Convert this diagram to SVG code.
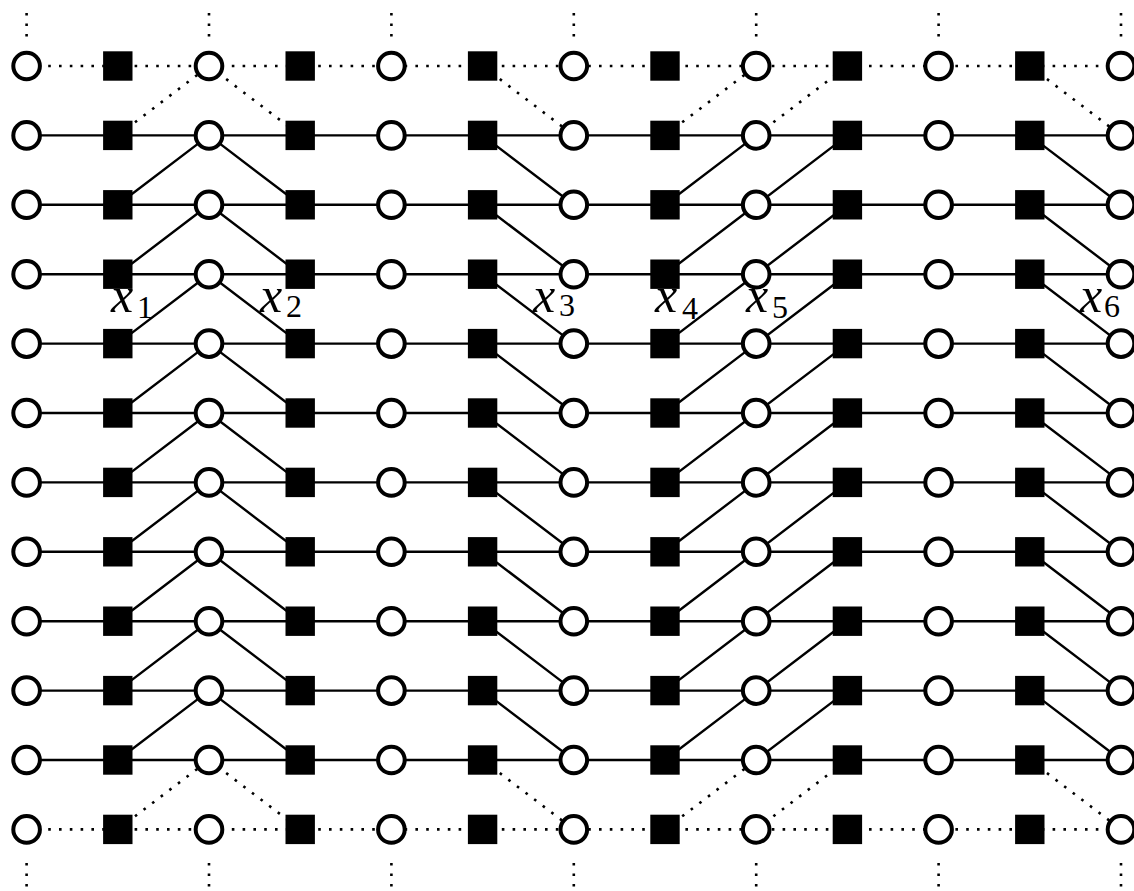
<svg xmlns="http://www.w3.org/2000/svg" xmlns:xlink="http://www.w3.org/1999/xlink" width="1134" height="891" viewBox="0 0 1134 891">
<style>
.solid{fill:none;stroke:#000;stroke-width:2.4}
.dot{fill:none;stroke:#000;stroke-width:2.6;stroke-dasharray:2.6 8.2}
.vdot{fill:none;stroke:#000;stroke-width:2.6;stroke-dasharray:2.6 7.9}
.circ{fill:#fff;stroke:#000;stroke-width:4}
.sq{fill:#000}
.lbl{font-family:"Liberation Serif","Times New Roman",serif;font-style:italic;font-size:50px;fill:#000}
.sub{font-family:"Liberation Serif","Times New Roman",serif;font-style:normal;font-size:32px;fill:#000}
</style>
<defs>
<circle id="C" cx="0" cy="0" r="13.3" class="circ"/>
<rect id="S" x="-14.7" y="-14.7" width="29.4" height="29.4" class="sq"/>
</defs>
<rect width="1134" height="891" fill="#fff"/>
<g id="connectors">
<path class="dot" d="M26.6 66H1121M26.6 829.4H1121"/>
<path class="solid" d="M26.6 135.4H1121M26.6 204.8H1121M26.6 274.2H1121M26.6 343.6H1121M26.6 413H1121M26.6 482.4H1121M26.6 551.8H1121M26.6 621.2H1121M26.6 690.6H1121M26.6 760H1121"/>
<path class="vdot" d="M26.6 13V37M209 13V37M391.4 13V37M573.8 13V37M756.2 13V37M938.6 13V37M1121 13V37"/>
<path class="vdot" d="M26.6 863V887M209 863V887M391.4 863V887M573.8 863V887M756.2 863V887M938.6 863V887M1121 863V887"/>
<path class="dot" d="M117.8 135.4L209 66M117.8 829.4L209 760M209 66L300.2 135.4M209 760L300.2 829.4M482.6 66L573.8 135.4M482.6 760L573.8 829.4M665 135.4L756.2 66M665 829.4L756.2 760M756.2 135.4L847.4 66M756.2 829.4L847.4 760M1029.8 66L1121 135.4M1029.8 760L1121 829.4"/>
<path class="solid" d="M117.8 204.8l91.2 -69.4M117.8 274.2l91.2 -69.4M117.8 343.6l91.2 -69.4M117.8 413l91.2 -69.4M117.8 482.4l91.2 -69.4M117.8 551.8l91.2 -69.4M117.8 621.2l91.2 -69.4M117.8 690.6l91.2 -69.4M117.8 760l91.2 -69.4"/>
<path class="solid" d="M209 135.4l91.2 69.4M209 204.8l91.2 69.4M209 274.2l91.2 69.4M209 343.6l91.2 69.4M209 413l91.2 69.4M209 482.4l91.2 69.4M209 551.8l91.2 69.4M209 621.2l91.2 69.4M209 690.6l91.2 69.4"/>
<path class="solid" d="M482.6 135.4l91.2 69.4M482.6 204.8l91.2 69.4M482.6 274.2l91.2 69.4M482.6 343.6l91.2 69.4M482.6 413l91.2 69.4M482.6 482.4l91.2 69.4M482.6 551.8l91.2 69.4M482.6 621.2l91.2 69.4M482.6 690.6l91.2 69.4"/>
<path class="solid" d="M665 204.8l91.2 -69.4M665 274.2l91.2 -69.4M665 343.6l91.2 -69.4M665 413l91.2 -69.4M665 482.4l91.2 -69.4M665 551.8l91.2 -69.4M665 621.2l91.2 -69.4M665 690.6l91.2 -69.4M665 760l91.2 -69.4"/>
<path class="solid" d="M756.2 204.8l91.2 -69.4M756.2 274.2l91.2 -69.4M756.2 343.6l91.2 -69.4M756.2 413l91.2 -69.4M756.2 482.4l91.2 -69.4M756.2 551.8l91.2 -69.4M756.2 621.2l91.2 -69.4M756.2 690.6l91.2 -69.4M756.2 760l91.2 -69.4"/>
<path class="solid" d="M1029.8 135.4l91.2 69.4M1029.8 204.8l91.2 69.4M1029.8 274.2l91.2 69.4M1029.8 343.6l91.2 69.4M1029.8 413l91.2 69.4M1029.8 482.4l91.2 69.4M1029.8 551.8l91.2 69.4M1029.8 621.2l91.2 69.4M1029.8 690.6l91.2 69.4"/>
</g>
<g id="nodes">
<g id="n0_0"><use href="#C" x="26.6" y="66"/></g><g id="n0_1"><use href="#S" x="117.8" y="66"/></g><g id="n0_2"><use href="#C" x="209" y="66"/></g><g id="n0_3"><use href="#S" x="300.2" y="66"/></g><g id="n0_4"><use href="#C" x="391.4" y="66"/></g><g id="n0_5"><use href="#S" x="482.6" y="66"/></g><g id="n0_6"><use href="#C" x="573.8" y="66"/></g><g id="n0_7"><use href="#S" x="665" y="66"/></g><g id="n0_8"><use href="#C" x="756.2" y="66"/></g><g id="n0_9"><use href="#S" x="847.4" y="66"/></g><g id="n0_10"><use href="#C" x="938.6" y="66"/></g><g id="n0_11"><use href="#S" x="1029.8" y="66"/></g><g id="n0_12"><use href="#C" x="1121" y="66"/></g>
<g id="n1_0"><use href="#C" x="26.6" y="135.4"/></g><g id="n1_1"><use href="#S" x="117.8" y="135.4"/></g><g id="n1_2"><use href="#C" x="209" y="135.4"/></g><g id="n1_3"><use href="#S" x="300.2" y="135.4"/></g><g id="n1_4"><use href="#C" x="391.4" y="135.4"/></g><g id="n1_5"><use href="#S" x="482.6" y="135.4"/></g><g id="n1_6"><use href="#C" x="573.8" y="135.4"/></g><g id="n1_7"><use href="#S" x="665" y="135.4"/></g><g id="n1_8"><use href="#C" x="756.2" y="135.4"/></g><g id="n1_9"><use href="#S" x="847.4" y="135.4"/></g><g id="n1_10"><use href="#C" x="938.6" y="135.4"/></g><g id="n1_11"><use href="#S" x="1029.8" y="135.4"/></g><g id="n1_12"><use href="#C" x="1121" y="135.4"/></g>
<g id="n2_0"><use href="#C" x="26.6" y="204.8"/></g><g id="n2_1"><use href="#S" x="117.8" y="204.8"/></g><g id="n2_2"><use href="#C" x="209" y="204.8"/></g><g id="n2_3"><use href="#S" x="300.2" y="204.8"/></g><g id="n2_4"><use href="#C" x="391.4" y="204.8"/></g><g id="n2_5"><use href="#S" x="482.6" y="204.8"/></g><g id="n2_6"><use href="#C" x="573.8" y="204.8"/></g><g id="n2_7"><use href="#S" x="665" y="204.8"/></g><g id="n2_8"><use href="#C" x="756.2" y="204.8"/></g><g id="n2_9"><use href="#S" x="847.4" y="204.8"/></g><g id="n2_10"><use href="#C" x="938.6" y="204.8"/></g><g id="n2_11"><use href="#S" x="1029.8" y="204.8"/></g><g id="n2_12"><use href="#C" x="1121" y="204.8"/></g>
<g id="n3_0"><use href="#C" x="26.6" y="274.2"/></g><g id="n3_1"><use href="#S" x="117.8" y="274.2"/></g><g id="n3_2"><use href="#C" x="209" y="274.2"/></g><g id="n3_3"><use href="#S" x="300.2" y="274.2"/></g><g id="n3_4"><use href="#C" x="391.4" y="274.2"/></g><g id="n3_5"><use href="#S" x="482.6" y="274.2"/></g><g id="n3_6"><use href="#C" x="573.8" y="274.2"/></g><g id="n3_7"><use href="#S" x="665" y="274.2"/></g><g id="n3_8"><use href="#C" x="756.2" y="274.2"/></g><g id="n3_9"><use href="#S" x="847.4" y="274.2"/></g><g id="n3_10"><use href="#C" x="938.6" y="274.2"/></g><g id="n3_11"><use href="#S" x="1029.8" y="274.2"/></g><g id="n3_12"><use href="#C" x="1121" y="274.2"/></g>
<g id="n4_0"><use href="#C" x="26.6" y="343.6"/></g><g id="n4_1"><use href="#S" x="117.8" y="343.6"/></g><g id="n4_2"><use href="#C" x="209" y="343.6"/></g><g id="n4_3"><use href="#S" x="300.2" y="343.6"/></g><g id="n4_4"><use href="#C" x="391.4" y="343.6"/></g><g id="n4_5"><use href="#S" x="482.6" y="343.6"/></g><g id="n4_6"><use href="#C" x="573.8" y="343.6"/></g><g id="n4_7"><use href="#S" x="665" y="343.6"/></g><g id="n4_8"><use href="#C" x="756.2" y="343.6"/></g><g id="n4_9"><use href="#S" x="847.4" y="343.6"/></g><g id="n4_10"><use href="#C" x="938.6" y="343.6"/></g><g id="n4_11"><use href="#S" x="1029.8" y="343.6"/></g><g id="n4_12"><use href="#C" x="1121" y="343.6"/></g>
<g id="n5_0"><use href="#C" x="26.6" y="413"/></g><g id="n5_1"><use href="#S" x="117.8" y="413"/></g><g id="n5_2"><use href="#C" x="209" y="413"/></g><g id="n5_3"><use href="#S" x="300.2" y="413"/></g><g id="n5_4"><use href="#C" x="391.4" y="413"/></g><g id="n5_5"><use href="#S" x="482.6" y="413"/></g><g id="n5_6"><use href="#C" x="573.8" y="413"/></g><g id="n5_7"><use href="#S" x="665" y="413"/></g><g id="n5_8"><use href="#C" x="756.2" y="413"/></g><g id="n5_9"><use href="#S" x="847.4" y="413"/></g><g id="n5_10"><use href="#C" x="938.6" y="413"/></g><g id="n5_11"><use href="#S" x="1029.8" y="413"/></g><g id="n5_12"><use href="#C" x="1121" y="413"/></g>
<g id="n6_0"><use href="#C" x="26.6" y="482.4"/></g><g id="n6_1"><use href="#S" x="117.8" y="482.4"/></g><g id="n6_2"><use href="#C" x="209" y="482.4"/></g><g id="n6_3"><use href="#S" x="300.2" y="482.4"/></g><g id="n6_4"><use href="#C" x="391.4" y="482.4"/></g><g id="n6_5"><use href="#S" x="482.6" y="482.4"/></g><g id="n6_6"><use href="#C" x="573.8" y="482.4"/></g><g id="n6_7"><use href="#S" x="665" y="482.4"/></g><g id="n6_8"><use href="#C" x="756.2" y="482.4"/></g><g id="n6_9"><use href="#S" x="847.4" y="482.4"/></g><g id="n6_10"><use href="#C" x="938.6" y="482.4"/></g><g id="n6_11"><use href="#S" x="1029.8" y="482.4"/></g><g id="n6_12"><use href="#C" x="1121" y="482.4"/></g>
<g id="n7_0"><use href="#C" x="26.6" y="551.8"/></g><g id="n7_1"><use href="#S" x="117.8" y="551.8"/></g><g id="n7_2"><use href="#C" x="209" y="551.8"/></g><g id="n7_3"><use href="#S" x="300.2" y="551.8"/></g><g id="n7_4"><use href="#C" x="391.4" y="551.8"/></g><g id="n7_5"><use href="#S" x="482.6" y="551.8"/></g><g id="n7_6"><use href="#C" x="573.8" y="551.8"/></g><g id="n7_7"><use href="#S" x="665" y="551.8"/></g><g id="n7_8"><use href="#C" x="756.2" y="551.8"/></g><g id="n7_9"><use href="#S" x="847.4" y="551.8"/></g><g id="n7_10"><use href="#C" x="938.6" y="551.8"/></g><g id="n7_11"><use href="#S" x="1029.8" y="551.8"/></g><g id="n7_12"><use href="#C" x="1121" y="551.8"/></g>
<g id="n8_0"><use href="#C" x="26.6" y="621.2"/></g><g id="n8_1"><use href="#S" x="117.8" y="621.2"/></g><g id="n8_2"><use href="#C" x="209" y="621.2"/></g><g id="n8_3"><use href="#S" x="300.2" y="621.2"/></g><g id="n8_4"><use href="#C" x="391.4" y="621.2"/></g><g id="n8_5"><use href="#S" x="482.6" y="621.2"/></g><g id="n8_6"><use href="#C" x="573.8" y="621.2"/></g><g id="n8_7"><use href="#S" x="665" y="621.2"/></g><g id="n8_8"><use href="#C" x="756.2" y="621.2"/></g><g id="n8_9"><use href="#S" x="847.4" y="621.2"/></g><g id="n8_10"><use href="#C" x="938.6" y="621.2"/></g><g id="n8_11"><use href="#S" x="1029.8" y="621.2"/></g><g id="n8_12"><use href="#C" x="1121" y="621.2"/></g>
<g id="n9_0"><use href="#C" x="26.6" y="690.6"/></g><g id="n9_1"><use href="#S" x="117.8" y="690.6"/></g><g id="n9_2"><use href="#C" x="209" y="690.6"/></g><g id="n9_3"><use href="#S" x="300.2" y="690.6"/></g><g id="n9_4"><use href="#C" x="391.4" y="690.6"/></g><g id="n9_5"><use href="#S" x="482.6" y="690.6"/></g><g id="n9_6"><use href="#C" x="573.8" y="690.6"/></g><g id="n9_7"><use href="#S" x="665" y="690.6"/></g><g id="n9_8"><use href="#C" x="756.2" y="690.6"/></g><g id="n9_9"><use href="#S" x="847.4" y="690.6"/></g><g id="n9_10"><use href="#C" x="938.6" y="690.6"/></g><g id="n9_11"><use href="#S" x="1029.8" y="690.6"/></g><g id="n9_12"><use href="#C" x="1121" y="690.6"/></g>
<g id="n10_0"><use href="#C" x="26.6" y="760"/></g><g id="n10_1"><use href="#S" x="117.8" y="760"/></g><g id="n10_2"><use href="#C" x="209" y="760"/></g><g id="n10_3"><use href="#S" x="300.2" y="760"/></g><g id="n10_4"><use href="#C" x="391.4" y="760"/></g><g id="n10_5"><use href="#S" x="482.6" y="760"/></g><g id="n10_6"><use href="#C" x="573.8" y="760"/></g><g id="n10_7"><use href="#S" x="665" y="760"/></g><g id="n10_8"><use href="#C" x="756.2" y="760"/></g><g id="n10_9"><use href="#S" x="847.4" y="760"/></g><g id="n10_10"><use href="#C" x="938.6" y="760"/></g><g id="n10_11"><use href="#S" x="1029.8" y="760"/></g><g id="n10_12"><use href="#C" x="1121" y="760"/></g>
<g id="n11_0"><use href="#C" x="26.6" y="829.4"/></g><g id="n11_1"><use href="#S" x="117.8" y="829.4"/></g><g id="n11_2"><use href="#C" x="209" y="829.4"/></g><g id="n11_3"><use href="#S" x="300.2" y="829.4"/></g><g id="n11_4"><use href="#C" x="391.4" y="829.4"/></g><g id="n11_5"><use href="#S" x="482.6" y="829.4"/></g><g id="n11_6"><use href="#C" x="573.8" y="829.4"/></g><g id="n11_7"><use href="#S" x="665" y="829.4"/></g><g id="n11_8"><use href="#C" x="756.2" y="829.4"/></g><g id="n11_9"><use href="#S" x="847.4" y="829.4"/></g><g id="n11_10"><use href="#C" x="938.6" y="829.4"/></g><g id="n11_11"><use href="#S" x="1029.8" y="829.4"/></g><g id="n11_12"><use href="#C" x="1121" y="829.4"/></g>
</g>
<g id="labels">
<text class="lbl" x="111" y="312">x</text><text class="sub" x="137" y="318">1</text>
<text class="lbl" x="260" y="312">x</text><text class="sub" x="286" y="317">2</text>
<text class="lbl" x="533" y="312">x</text><text class="sub" x="559" y="316">3</text>
<text class="lbl" x="655" y="312">x</text><text class="sub" x="682" y="319">4</text>
<text class="lbl" x="746" y="312">x</text><text class="sub" x="772" y="318">5</text>
<text class="lbl" x="1080" y="312">x</text><text class="sub" x="1104" y="317">6</text>
</g>
</svg>
